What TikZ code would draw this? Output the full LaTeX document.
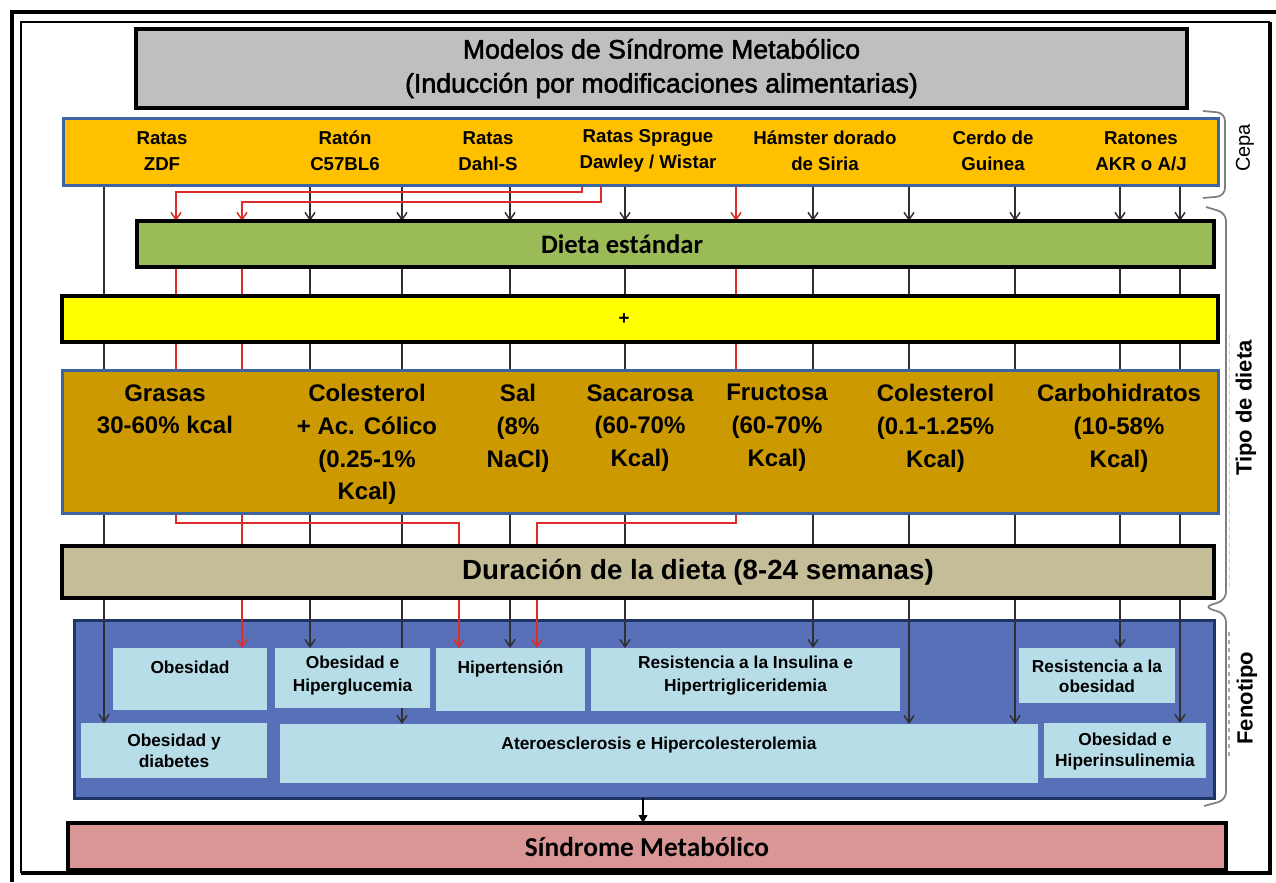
\documentclass[tikz,border=0pt]{standalone}
\usepackage{fontspec}
\setmainfont{Liberation Sans}
\newfontfamily\calfont{Carlito}
\newfontfamily\titlefont{Liberation Sans}[FakeBold=2]
\usetikzlibrary{arrows.meta}
\pgfdeclarelayer{back}
\pgfdeclarelayer{lines}
\pgfsetlayers{back,lines,main}
\definecolor{titlegray}{HTML}{BFBFBF}
\definecolor{cepaorange}{HTML}{FFC000}
\definecolor{edgeblue}{HTML}{3C64A0}
\definecolor{stdgreen}{HTML}{9BBB59}
\definecolor{plusyellow}{HTML}{FFFF00}
\definecolor{dietbrown}{HTML}{CC9900}
\definecolor{durtan}{HTML}{C4BD97}
\definecolor{phenoblue}{HTML}{5870B8}
\definecolor{navy}{HTML}{1F3566}
\definecolor{lightblue}{HTML}{B7DEE8}
\definecolor{sindpink}{HTML}{D99694}
\definecolor{lnblack}{HTML}{303030}
\definecolor{lnred}{HTML}{DD2C2C}
\definecolor{bracegray}{HTML}{7F7F7F}
\begin{document}
\begin{tikzpicture}[x=0.75pt,y=-0.75pt,
  bx/.style 2 args={inner sep=0pt,outer sep=0pt,minimum width=#1*0.75pt,minimum height=#2*0.75pt},
  heavy/.style={draw=black,line width=3pt},
  blueedge/.style={draw=edgeblue,line width=2.25pt},
  lbox/.style={fill=lightblue},
  conn/.style={draw=lnblack,line width=1.1pt},
  redconn/.style={draw=lnred,line width=1.1pt},
  arr/.style={-{Straight Barb[length=5.5pt,width=7.5pt]}},
  straintxt/.style={font=\bfseries\fontsize{14pt}{19.5pt}\selectfont,align=center,inner sep=0pt},
  diettxt/.style={font=\bfseries\fontsize{18pt}{24.5pt}\selectfont,align=center,inner sep=0pt,anchor=north,execute at begin node={\rule{0pt}{1em}}},
  phtxt/.style={font=\bfseries\fontsize{13pt}{#1}\selectfont,align=center,inner sep=0pt,anchor=north,execute at begin node={\rule{0pt}{1em}}},
  bracel/.style={draw=bracegray,line width=1.3pt,rounded corners=6pt},
  sidelbl/.style={rotate=90,inner sep=0pt}
]
\useasboundingbox (0,0) rectangle (1276,882);

% ---------- background layer: frame and phenotype panel ----------
\begin{pgfonlayer}{back}
  \fill[white] (0,0) rectangle (1276,882);
  \draw[line width=3pt] (12,882) -- (12,12) -- (1276,12);
  \draw[line width=0.8pt] (21,873) -- (21,22) -- (1270,22);
  \draw[line width=2.4pt] (1270,22) -- (1270,873) -- (21,873);
  \node[bx={1140}{178},fill=phenoblue,draw=navy,line width=2.25pt] (pheno) at (644,709) {};
\end{pgfonlayer}

% ---------- boxes ----------
\node[bx={1051}{79},heavy,fill=titlegray,align=center,
      font=\titlefont\fontsize{20pt}{25.5pt}\selectfont] (title) at (661.5,68.5)
      {Modelos de Síndrome Metabólico\\(Inducción por modificaciones alimentarias)};

\node[bx={1155}{67},blueedge,fill=cepaorange] (cepa) at (640.5,151.5) {};
\node[straintxt] (s1) at (162,151) {Ratas\\ZDF};
\node[straintxt] (s2) at (345,151) {Ratón\\C57BL6};
\node[straintxt] (s3) at (488,151) {Ratas\\Dahl-S};
\node[straintxt] (s4) at (648,151) {Ratas Sprague\\Dawley / Wistar};
\node[straintxt] (s5) at (825,151) {Hámster dorado\\de Siria};
\node[straintxt] (s6) at (993,151) {Cerdo de\\Guinea};
\node[straintxt] (s7) at (1141,151) {Ratones\\AKR o A/J};

\node[bx={1077}{46},heavy,fill=stdgreen] (green) at (675.5,244) {};
\node[font=\calfont\bfseries\fontsize{20pt}{24pt}\selectfont,inner sep=0pt] (greent) at (622,244) {Dieta estándar};

\node[bx={1156}{46},heavy,fill=plusyellow] (yellow) at (640,319) {};
\node[font=\bfseries\fontsize{14pt}{16pt}\selectfont,inner sep=0pt] (plus) at (624,319) {+};

\node[bx={1156}{143},blueedge,fill=dietbrown] (brown) at (640,441.5) {};
\node[diettxt] (d1) at (165,384) {Grasas\\30-60\% kcal};
\node[diettxt] (d2) at (367,384) {Colesterol\\+ Ac. Cólico\\(0.25-1\%\\Kcal)};
\node[diettxt] (d3) at (518,384) {Sal\\(8\%\\NaCl)};
\node[diettxt] (d4) at (640,384) {Sacarosa\\(60-70\%\\Kcal)};
\node[diettxt] (d5) at (777,384) {Fructosa\\(60-70\%\\Kcal)};
\node[diettxt] (d6) at (935.5,384) {Colesterol\\(0.1-1.25\%\\Kcal)};
\node[diettxt] (d7) at (1119,384) {Carbohidratos\\(10-58\%\\Kcal)};

\node[bx={1152}{52},heavy,fill=durtan] (dur) at (638,572) {};
\node[font=\bfseries\fontsize{20.8pt}{24pt}\selectfont,inner sep=0pt] (durt) at (698,572) {Duración de la dieta (8-24 semanas)};

% phenotype boxes
\node[bx={154}{62},lbox] (obes) at (190,679) {};
\node[bx={155}{60},lbox] (obhip) at (352.5,678) {};
\node[bx={149}{63},lbox] (hiper) at (510.5,679.5) {};
\node[bx={309}{63},lbox] (resins) at (745.5,679.5) {};
\node[bx={156}{55},lbox] (resob) at (1097,675.5) {};
\node[bx={186}{55},lbox] (obdiab) at (174,750.5) {};
\node[bx={758}{59},lbox] (atero) at (659,753.5) {};
\node[bx={162}{55},lbox] (obhins) at (1125,750.5) {};

\node[phtxt=17.25pt] (obes-t) at (190,656) {Obesidad};
\node[phtxt=17.25pt] (obhip-t) at (352.5,656) {Obesidad e\\Hiperglucemia};
\node[phtxt=17.25pt] (hiper-t) at (510.5,656) {Hipertensión};
\node[phtxt=17.25pt] (resins-t) at (745.5,656) {Resistencia a la Insulina e\\Hipertrigliceridemia};
\node[phtxt=15pt] (resob-t) at (1097,660) {Resistencia a la\\obesidad};
\node[phtxt=15.75pt] (obdiab-t) at (174,734) {Obesidad y\\diabetes};
\node[phtxt=15.75pt] (atero-t) at (659,732) {Ateroesclerosis e Hipercolesterolemia};
\node[phtxt=15.75pt] (obhins-t) at (1125,733) {Obesidad e\\Hiperinsulinemia};

\node[bx={1158}{47},heavy,fill=sindpink,font=\calfont\bfseries\fontsize{20.5pt}{24pt}\selectfont] (sind) at (647,846.5) {Síndrome Metabólico};

% side labels and brackets
\node[sidelbl,font=\fontsize{15pt}{18pt}\selectfont] (cepalbl) at (1245,148) {Cepa};
\node[sidelbl,font=\bfseries\fontsize{16.5pt}{20pt}\selectfont] (dietlbl) at (1246,408) {Tipo de dieta};
\node[sidelbl,font=\bfseries\fontsize{16.5pt}{20pt}\selectfont] (fenolbl) at (1247,698) {Fenotipo};
\draw[bracel] (1203,111) -- (1225,113) -- (1225,196) -- (1203,198);
\draw[bracel] (1206,207) -- (1226,213) -- (1226,600) -- (1204,607) -- (1226,614) -- (1226,800) -- (1204,806);
\draw[gray!40,dashed,line width=0.6pt] (1229,335) -- (1229,590);
\draw[gray!70,dashed,line width=0.8pt] (1229,632) -- (1229,756);

% ---------- connectors ----------
\coordinate (k0) at (104,0);
\coordinate (r1) at (176,0);
\coordinate (r2) at (242,0);
\coordinate (k1) at (310,0);
\coordinate (k2) at (402,0);
\coordinate (m1) at (459,0);
\coordinate (k3) at (510,0);
\coordinate (m2) at (537,0);
\coordinate (sA) at (582,0);
\coordinate (sB) at (601,0);
\coordinate (k4) at (625,0);
\coordinate (r3) at (736,0);
\coordinate (k5) at (813,0);
\coordinate (k6) at (909,0);
\coordinate (k7) at (1015,0);
\coordinate (k8) at (1120,0);
\coordinate (k9) at (1180,0);
\coordinate (ya) at (0,192);
\coordinate (yb) at (0,202);
\coordinate (yc) at (0,523);
\coordinate (ax) at (643,0);

\begin{pgfonlayer}{lines}
  % black strain columns
  \draw[conn,arr] (k0 |- cepa.south) -- (k0 |- obdiab.north);
  \foreach \c in {k1,k2,k3,k4,k5,k6,k7,k8,k9}
    \draw[conn,arr] (\c |- cepa.south) -- (\c |- green.north);
  \draw[conn,arr] (k1 |- green.north) -- (k1 |- obhip.north);
  \draw[conn,arr] (k2 |- green.north) -- (k2 |- atero.north);
  \draw[conn,arr] (k3 |- green.north) -- (k3 |- hiper.north);
  \draw[conn,arr] (k4 |- green.north) -- (k4 |- resins.north);
  \draw[conn,arr] (k5 |- green.north) -- (k5 |- resins.north);
  \draw[conn,arr] (k6 |- green.north) -- (k6 |- atero.north);
  \draw[conn,arr] (k7 |- green.north) -- (k7 |- atero.north);
  \draw[conn,arr] (k8 |- green.north) -- (k8 |- resob.north);
  \draw[conn,arr] (k9 |- green.north) -- (k9 |- obhins.north);
  % red paths
  \draw[redconn,arr] (sA |- cepa.south) -- (sA |- ya) -- (r1 |- ya) -- (r1 |- green.north);
  \draw[redconn,arr] (r1 |- green.north) -- (r1 |- yc) -- (m1 |- yc) -- (m1 |- hiper.north);
  \draw[redconn,arr] (sB |- cepa.south) -- (sB |- yb) -- (r2 |- yb) -- (r2 |- green.north);
  \draw[redconn,arr] (r2 |- green.north) -- (r2 |- obes.north);
  \draw[redconn,arr] (r3 |- cepa.south) -- (r3 |- green.north);
  \draw[redconn,arr] (r3 |- green.north) -- (r3 |- yc) -- (m2 |- yc) -- (m2 |- hiper.north);
  % phenotype to syndrome
  \draw[draw=black,line width=1.4pt,-{Triangle[length=6pt,width=6.5pt]}] (ax |- pheno.south) -- (ax |- sind.north);
\end{pgfonlayer}
\end{tikzpicture}
\end{document}
